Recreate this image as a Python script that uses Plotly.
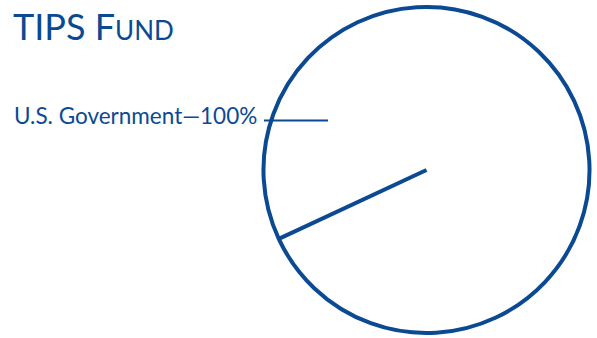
import plotly.graph_objects as go

# Portfolio composition
sectors = ["U.S. Government"]
weights = [100]
labels = ["U.S. Government\u2014100%"]

BLUE = "#0b4a92"
W, H = 597, 338
START_ANGLE = 245  # clockwise from 12 o'clock

# pie placement (pixels)
cx, cy, r = 426.5, 170, 163
dom_x = [(cx - r) / W, (cx + r) / W]
dom_y = [(H - cy - r) / H, (H - cy + r) / H]

fig = go.Figure()

fig.add_trace(go.Pie(
    labels=sectors,
    values=weights,
    domain=dict(x=dom_x, y=dom_y),
    rotation=START_ANGLE,
    direction="clockwise",
    sort=False,
    marker=dict(colors=["rgba(255,255,255,0)"], line=dict(color=BLUE, width=4)),
    textinfo="none",
    hoverinfo="skip",
    showlegend=False,
))

# slice boundary from the centre to the rim at the start angle
fig.add_trace(go.Scatterpolar(
    r=[0, 1],
    theta=[START_ANGLE, START_ANGLE],
    mode="lines",
    line=dict(color=BLUE, width=4),
    hoverinfo="skip",
    showlegend=False,
))

fig.update_layout(
    width=W, height=H,
    margin=dict(l=0, r=0, t=0, b=0),
    paper_bgcolor="white",
    plot_bgcolor="white",
    polar=dict(
        domain=dict(x=dom_x, y=dom_y),
        bgcolor="rgba(0,0,0,0)",
        radialaxis=dict(visible=False, range=[0, 1]),
        angularaxis=dict(visible=False, rotation=90, direction="clockwise"),
    ),
    font=dict(family="Lato", color=BLUE),
)

# title in small caps
fig.add_annotation(
    x=11 / W, y=1 - 26 / H, xref="paper", yref="paper",
    xanchor="left", yanchor="middle",
    text="TIPS F<span style='font-size:26px'>UND</span>",
    showarrow=False,
    font=dict(family="Lato", size=36, color=BLUE),
)

# sector label with leader line
fig.add_annotation(
    x=259 / W, y=1 - 116 / H, xref="paper", yref="paper",
    xanchor="right", yanchor="middle",
    text=labels[0],
    showarrow=False,
    font=dict(family="Lato", size=22.5, color=BLUE),
)
fig.add_shape(
    type="line", xref="paper", yref="paper",
    x0=264 / W, x1=328 / W, y0=1 - 120.5 / H, y1=1 - 120.5 / H,
    line=dict(color=BLUE, width=2),
)

fig.write_html("out.html")
